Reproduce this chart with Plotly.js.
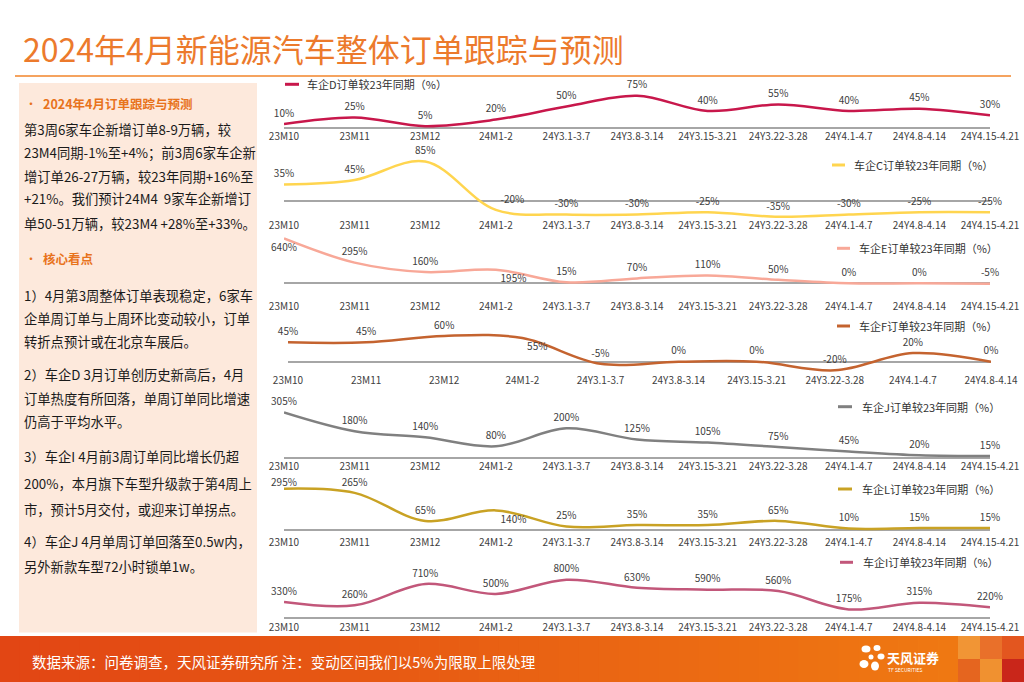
<!DOCTYPE html>
<html><head><meta charset="utf-8">
<script src="https://cdn.plot.ly/plotly-3.0.1.min.js"></script>
<style>html,body{margin:0;padding:0;background:#fff;}#chart{width:1024px;height:682px;}</style>
</head><body><div id="chart"></div>
<script>
// ---------- DATA ----------
const catsA = ['23M10','23M11','23M12','24M1-2','24Y3.1-3.7','24Y3.8-3.14','24Y3.15-3.21','24Y3.22-3.28','24Y4.1-4.7','24Y4.8-4.14','24Y4.15-4.21'];
const catsF = ['23M10','23M11','23M12','24M1-2','24Y3.1-3.7','24Y3.8-3.14','24Y3.15-3.21','24Y3.22-3.28','24Y4.1-4.7','24Y4.8-4.14'];
const valsD = [10,25,5,20,50,75,40,55,40,45,30];
const valsC = [35,45,85,-20,-30,-30,-25,-35,-30,-25,-25];
const valsE = [640,295,160,195,15,70,110,50,0,0,-5];
const valsF = [45,45,60,55,-5,0,0,-20,20,0];
const valsJ = [305,180,140,80,200,125,105,75,45,20,15];
const valsL = [295,265,65,140,25,35,35,65,10,15,15];
const valsI = [330,260,710,500,800,630,590,560,175,315,220];
const seriesNames = ['车企D订单较23年同期（%）','车企C订单较23年同期（%）','车企E订单较23年同期（%）','车企F订单较23年同期（%）','车企J订单较23年同期（%）','车企L订单较23年同期（%）','车企I订单较23年同期（%）'];
const titleText = '2024年4月新能源汽车整体订单跟踪与预测';
const sourceText = '数据来源：问卷调查，天风证券研究所 注：变动区间我们以5%为限取上限处理';
const headA = '2024年4月订单跟踪与预测';
const headB = '核心看点';
const para1 = ['第3周6家车企新增订单8-9万辆，较','23M4同期-1%至+4%；前3周6家车企新','增订单26-27万辆，较23年同期+16%至','+21%。我们预计24M4  9家车企新增订','单50-51万辆，较23M4 +28%至+33%。'];
const para2 = ['1）4月第3周整体订单表现稳定，6家车','企单周订单与上周环比变动较小，订单','转折点预计或在北京车展后。'];
const para3 = ['2）车企D 3月订单创历史新高后，4月','订单热度有所回落，单周订单同比增速','仍高于平均水平。'];
const para4 = ['3）车企I 4月前3周订单同比增长仍超','200%，本月旗下车型升级款于第4周上','市，预计5月交付，或迎来订单拐点。'];
const para5 = ['4）车企J 4月单周订单回落至0.5w内，','另外新款车型72小时锁单1w。'];

// ---------- LAYOUT HELPERS ----------
const W = 1024, H = 682;
const px = x => x / W;
const py = y => 1 - y / H;
const FONT = '"Noto Sans CJK SC", "Noto Sans", sans-serif';

const panels = [
  {cats:catsA, vals:valsD, color:'#C8174B', Z:128.3, s:0.435, T:88,  B:129.3, x0:284, x1:990, leg:{x0:285,x1:299,y:84.3,tx:305}, tp:{}, ms:{}},
  {cats:catsA, vals:valsC, color:'#FFD54F', Z:200.7, s:0.46,  T:150, B:218,   x0:284, x1:990, leg:{x0:832,x1:845,y:165,tx:852}, tp:{3:'top right'}, ms:{}},
  {cats:catsA, vals:valsE, color:'#F8A898', Z:283.3, s:0.07,  T:232, B:298.7, x0:284, x1:990, leg:{x0:837,x1:850,y:248.3,tx:857}, tp:{0:'bottom center',3:'bottom right'}, ms:{}},
  {cats:catsF, vals:valsF, color:'#C4632F', Z:361.7, s:0.43,  T:330, B:373,   x0:288, x1:991, leg:{x0:837,x1:850,y:326,tx:857}, tp:{3:'bottom right'}, ms:{}},
  {cats:catsA, vals:valsJ, color:'#808080', Z:458.3, s:0.15,  T:405, B:459,   x0:284, x1:990, leg:{x0:838,x1:852,y:406.7,tx:860}, tp:{}, ms:{}},
  {cats:catsA, vals:valsL, color:'#C9A224', Z:530,   s:0.14,  T:480, B:535,   x0:284, x1:990, leg:{x0:838,x1:852,y:489,tx:860}, tp:{3:'bottom right'}, ms:{0:0}},
  {cats:catsA, vals:valsI, color:'#C2577A', Z:617.7, s:0.0475,T:570, B:619.7, x0:284, x1:990, leg:{x0:840,x1:853,y:562.3,tx:861}, tp:{}, ms:{}}
];

const data = [];
const layout = {
  width: W, height: H,
  margin: {l:0, r:0, t:0, b:0},
  paper_bgcolor: '#ffffff', plot_bgcolor: 'rgba(0,0,0,0)',
  showlegend: false,
  font: {family: FONT, color:'#404040'},
  shapes: [], annotations: []
};

panels.forEach((p, i) => {
  const n = i === 0 ? '' : String(i + 1);
  data.push({
    type:'scatter', mode:'lines+markers+text',
    x: p.cats, y: p.vals,
    text: p.vals.map(v => v + '%'),
    textposition: p.vals.map((v, k) => p.tp[k] || 'top center'),
    textfont: {size:10, color:'#404040', family: FONT},
    cliponaxis: false,
    line: {color:p.color, width:2.5, shape:'spline', smoothing:1},
    marker: {size:p.vals.map((v, k) => (k in p.ms) ? p.ms[k] : 6), color:'rgba(0,0,0,0)', opacity:0, line:{width:0, color:'rgba(0,0,0,0)'}},
    name: seriesNames[i],
    xaxis: 'x' + n, yaxis: 'y' + n, hoverinfo:'skip'
  });
  layout['xaxis' + n] = {
    domain:[px(p.x0), px(p.x1)], anchor:'y' + n, type:'category',
    range:[0, p.cats.length - 1], showgrid:false, zeroline:false, showline:false,
    ticks:'', tickfont:{size:10, color:'#404040', family: FONT}, fixedrange:true, automargin:false
  };
  layout['yaxis' + n] = {
    domain:[py(p.B), py(p.T)], anchor:'x' + n,
    range:[-(p.B - p.Z) / p.s, (p.Z - p.T) / p.s],
    showgrid:false, showticklabels:false, ticks:'', showline:false,
    zeroline:true, zerolinecolor:'#A6A6A6', zerolinewidth:2, fixedrange:true, automargin:false
  };
  layout.shapes.push({type:'line', xref:'paper', yref:'paper', x0:px(p.leg.x0), x1:px(p.leg.x1), y0:py(p.leg.y), y1:py(p.leg.y), line:{color:p.color, width:3}});
  layout.annotations.push({xref:'paper', yref:'paper', x:px(p.leg.tx), y:py(p.leg.y), xanchor:'left', yanchor:'middle', showarrow:false, text:seriesNames[i], font:{size:11, color:'#333333', family:FONT}});
});

// Title and rule
layout.annotations.push({xref:'paper', yref:'paper', x:px(21), y:py(48), xanchor:'left', yanchor:'middle', showarrow:false, text:titleText, font:{size:32, color:'#EC7A2C', family:FONT}});
layout.shapes.push({type:'line', xref:'paper', yref:'paper', x0:px(15), x1:px(1011), y0:py(76), y1:py(76), line:{color:'#F5A35F', width:2}});

// Left panel
layout.shapes.push({type:'rect', xref:'paper', yref:'paper', x0:px(19), x1:px(257), y0:py(83), y1:py(632.5), fillcolor:'#FDE9DC', line:{width:0}, layer:'below'});
function textLine(str, x, y, opts) {
  layout.annotations.push(Object.assign({xref:'paper', yref:'paper', x:px(x), y:py(y), xanchor:'left', yanchor:'middle', showarrow:false, text:str, font:{size:13.3, color:'#1A1A1A', family:FONT}}, opts || {}));
}
textLine('•', 23, 103.3, {font:{size:12, color:'#E8731C', family:FONT}});
textLine('<b>' + headA + '</b>', 40.5, 103.3, {font:{size:12.5, color:'#E8731C', family:FONT}});
[129.3,152.5,176,199,223.3].forEach((y, k) => textLine(para1[k], 22, y));
textLine('•', 23, 258.3, {font:{size:12, color:'#E8731C', family:FONT}});
textLine('<b>' + headB + '</b>', 40.5, 258.3, {font:{size:12.5, color:'#E8731C', family:FONT}});
[295,318.3,341.7].forEach((y, k) => textLine(para2[k], 22, y));
[375,398.3,421.7].forEach((y, k) => textLine(para3[k], 22, y));
[456.7,483.3,509.3].forEach((y, k) => textLine(para4[k], 22, y));
[541.7,566].forEach((y, k) => textLine(para5[k], 22, y));

// Footer gradient bar
const N = 48, c0 = [226,70,20], c1 = [239,120,18];
for (let k = 0; k < N; k++) {
  const t = k / (N - 1);
  const c = c0.map((v, j) => Math.round(v + (c1[j] - v) * t));
  layout.shapes.push({type:'rect', xref:'paper', yref:'paper', x0:px(k * 958 / N), x1:px((k + 1) * 958 / N + 0.8), y0:py(636), y1:py(682), fillcolor:'rgb(' + c.join(',') + ')', line:{width:0}, layer:'below'});
}
const sq = [['#F19535','#E9702A','#E3561F'],['#E5651F','#F09130','#C9261A']];
sq.forEach((row, r) => row.forEach((col, c) => {
  layout.shapes.push({type:'rect', xref:'paper', yref:'paper', x0:px(958 + c * 22), x1:px(958 + (c + 1) * 22 + 0.5), y0:py(636 + r * 23), y1:py(636 + (r + 1) * 23 + 0.5), fillcolor:col, line:{width:0}, layer:'below'});
}));
layout.annotations.push({xref:'paper', yref:'paper', x:px(30), y:py(661), xanchor:'left', yanchor:'middle', showarrow:false, text:sourceText, font:{size:14.5, color:'#FFFFFF', family:FONT}});
[[866,649,4.5,3.5],[877,648,3.5,3],[881,656.5,3.5,3],[875,666,4,4.5],[864,664,4.5,4],[871,657,2.5,2.5]].forEach(e => {
  layout.shapes.push({type:'circle', xref:'paper', yref:'paper', x0:px(e[0]-e[2]), x1:px(e[0]+e[2]), y0:py(e[1]-e[3]), y1:py(e[1]+e[3]), fillcolor:'#FFFFFF', line:{width:0}});
});
layout.annotations.push({xref:'paper', yref:'paper', x:px(885), y:py(657), xanchor:'left', yanchor:'middle', showarrow:false, text:'<b>天风证券</b>', font:{size:13, color:'#FFFFFF', family:FONT}});
layout.annotations.push({xref:'paper', yref:'paper', x:px(886), y:py(669.5), xanchor:'left', yanchor:'middle', showarrow:false, text:'TF SECURITIES', font:{size:5, color:'#FFFFFF', family:FONT}});

Plotly.newPlot('chart', data, layout, {staticPlot:true, displayModeBar:false});
</script></body></html>
